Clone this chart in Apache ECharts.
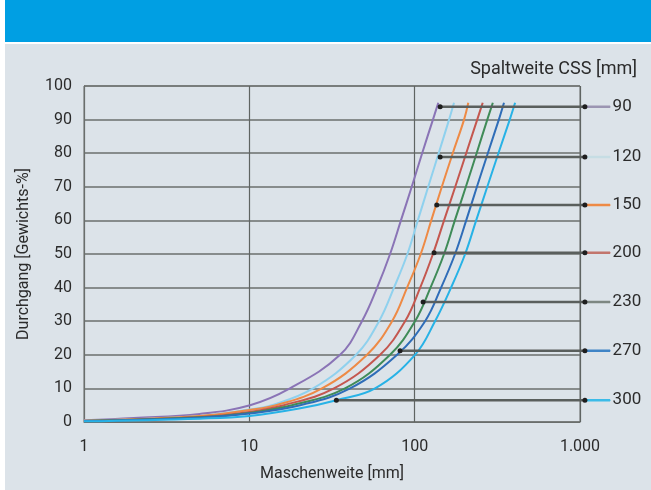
<!DOCTYPE html>
<html>
<head>
  <meta charset="UTF-8" />
  <title>Spaltweite CSS</title>
  <script src="https://cdn.jsdelivr.net/npm/echarts@6/dist/echarts.min.js"></script>
  <style>
    body { margin: 0; background: #fff; }
    #main { width: 651px; height: 490px; }
  </style>
</head>
<body>
  <div id="main"></div>
  <script>
    // Sieblinien je Spaltweite: Maschenweite [mm] / Durchgang [%]
    const names = ['90', '120', '150', '200', '230', '270', '300'];
    const colors = ['#8a74b6', '#8fd1ee', '#ee8a45', '#c4574f', '#3f8b58', '#2f6db8', '#27b2e6'];
    const tagColors = ['#9b95b2', '#c6dde4', '#ee8a45', '#c2756c', '#7d8782', '#3f84c6', '#3bbbe8'];

    const mesh90 = [1, 2, 5, 10.1, 17.6, 35.4, 48, 59.3, 71, 82.6, 96, 111, 129, 139];
    const pass90 = [0.5, 1.2, 2.4, 5, 10, 20, 30, 40, 50, 60, 70, 80, 90, 95];
    const mesh120 = [1, 5, 10, 13.7, 24.3, 44.2, 60.9, 75, 90.4, 104.5, 120.8, 139.7, 161.5, 173];
    const pass120 = [0.4, 1.8, 3.7, 5, 10, 20, 30, 40, 50, 60, 70, 80, 90, 95];
    const mesh150 = [1, 5, 10, 14.5, 27.5, 51.5, 73, 90, 108.8, 126, 146, 170, 199, 211];
    const pass150 = [0.4, 1.8, 3.6, 5, 10, 20, 30, 40, 50, 60, 70, 80, 90, 95];
    const mesh200 = [1, 5, 10, 16.2, 32.5, 61.8, 87.5, 108, 129, 150.6, 176, 205, 239, 258];
    const pass200 = [0.3, 1.5, 3, 5, 10, 20, 30, 40, 50, 60, 70, 80, 90, 95];
    const mesh230 = [1, 5, 10, 18.1, 37.9, 71, 100.5, 124.7, 150.6, 175, 204, 237, 275, 297];
    const pass230 = [0.3, 1.4, 2.7, 5, 10, 20, 30, 40, 50, 60, 70, 80, 90, 95];
    const mesh270 = [1, 5, 10, 20.3, 40.7, 78.3, 115.6, 144.5, 175.5, 205, 238, 277, 323, 347];
    const pass270 = [0.3, 1.3, 2.5, 5, 10, 20, 30, 40, 50, 60, 70, 80, 90, 95];
    const mesh300 = [1, 5, 10, 20, 33.6, 57.6, 100.5, 132.8, 166, 202, 235.5, 275, 321, 376, 405];
    const pass300 = [0.2, 1, 1.8, 4, 6.5, 10, 20, 30, 40, 50, 60, 70, 80, 90, 95];

    // Beschriftungslinien: Punkt auf der Kurve -> rechter Rand (Hauptdiagramm)
    const tagY = [93.8, 78.9, 64.6, 50.4, 35.7, 21.2, 6.5];
    const tagX = [142.6, 142.6, 136, 131, 112.5, 81.6, 33.6];
    // Fortsetzung im schmalen Streifen rechts (0..1)
    const tagDot = 0.14;
    const tagEnd = 0.86;

    const curves = [
      [mesh90, pass90], [mesh120, pass120], [mesh150, pass150], [mesh200, pass200],
      [mesh230, pass230], [mesh270, pass270], [mesh300, pass300]
    ];

    const font = "'Roboto', sans-serif";
    let chart = echarts.init(document.getElementById('main'));

    let series = [];
    curves.forEach((c, i) => {
      series.push({
        name: names[i],
        type: 'line',
        data: c[0].map((x, k) => [x, c[1][k]]),
        smooth: 0.4,
        showSymbol: false,
        lineStyle: { color: colors[i], width: 2 },
        z: 3
      });
    });
    names.forEach((n, i) => {
      // schwarze Linie im Diagramm, Punkt auf der Kurve
      series.push({
        type: 'line',
        data: [
          { value: [tagX[i], tagY[i]] },
          { value: [1000, tagY[i]], symbol: 'none' }
        ],
        symbol: 'circle',
        symbolSize: 5,
        itemStyle: { color: '#1e1e1e' },
        lineStyle: { color: '#5a5f5d', width: 2.5 },
        z: 4
      });
      // Fortsetzung rechts: schwarzes Stück bis zum Punkt
      series.push({
        type: 'line',
        xAxisIndex: 1,
        yAxisIndex: 1,
        data: [
          { value: [0, tagY[i]], symbol: 'none' },
          { value: [tagDot, tagY[i]] }
        ],
        symbol: 'circle',
        symbolSize: 5,
        itemStyle: { color: '#1e1e1e' },
        lineStyle: { color: '#5a5f5d', width: 2.5 },
        z: 4
      });
      // farbiges Stück + Beschriftung
      series.push({
        type: 'line',
        xAxisIndex: 1,
        yAxisIndex: 1,
        data: [
          { value: [tagDot, tagY[i]], symbol: 'none' },
          { value: [tagEnd, tagY[i]] }
        ],
        symbol: 'circle',
        symbolSize: 1,
        itemStyle: { color: tagColors[i] },
        lineStyle: { color: tagColors[i], width: 2.5 },
        label: {
          show: true,
          position: 'right',
          distance: 2,
          formatter: n,
          color: '#2b2b2b',
          fontSize: 17,
          fontFamily: font
        },
        z: 3
      });
    });

    chart.setOption({
      backgroundColor: '#dce3e9',
      animation: false,
      graphic: [
        { type: 'rect', shape: { x: 0, y: 0, width: 651, height: 42 }, style: { fill: '#009fe3' } },
        { type: 'rect', shape: { x: 0, y: 42, width: 651, height: 2 }, style: { fill: '#ffffff' } },
        { type: 'rect', shape: { x: 0, y: 0, width: 5, height: 490 }, style: { fill: '#ffffff' } }
      ],
      title: {
        text: 'Spaltweite CSS [mm]',
        right: 9,
        top: 55,
        textStyle: { fontSize: 18, fontWeight: 'normal', color: '#2b2b2b', fontFamily: font }
      },
      grid: [
        { left: 84, right: 71, top: 86, bottom: 68, show: true, borderColor: '#6a6e6c', borderWidth: 1 },
        { left: 580, width: 35, top: 86, bottom: 68 }
      ],
      xAxis: [{
        type: 'log',
        logBase: 10,
        min: 1,
        max: 1000,
        name: 'Maschenweite [mm]',
        nameLocation: 'middle',
        nameGap: 44,
        nameTextStyle: { fontSize: 16, color: '#2b2b2b', fontFamily: font },
        axisLine: { lineStyle: { color: '#6a6e6c' } },
        axisTick: { show: false },
        axisLabel: {
          margin: 17,
          fontSize: 16,
          color: '#2b2b2b',
          fontFamily: font,
          formatter: v => v === 1000 ? '1.000' : String(v)
        },
        splitLine: { show: true, lineStyle: { color: '#5f6462', width: 1.2 } }
      }, {
        type: 'value',
        gridIndex: 1,
        min: 0,
        max: 1,
        show: false
      }],
      yAxis: [{
        type: 'value',
        min: 0,
        max: 100,
        interval: 10,
        name: 'Durchgang [Gewichts-%]',
        nameLocation: 'middle',
        nameGap: 52,
        nameTextStyle: { fontSize: 16, color: '#2b2b2b', fontFamily: font },
        axisLine: { show: true, lineStyle: { color: '#6a6e6c' } },
        axisTick: { show: false },
        axisLabel: { margin: 12, fontSize: 16, color: '#2b2b2b', fontFamily: font },
        splitLine: { lineStyle: { color: '#6b6f6d', width: 1.6 } }
      }, {
        type: 'value',
        gridIndex: 1,
        min: 0,
        max: 100,
        show: false
      }],
      series: series
    });
  </script>
</body>
</html>
